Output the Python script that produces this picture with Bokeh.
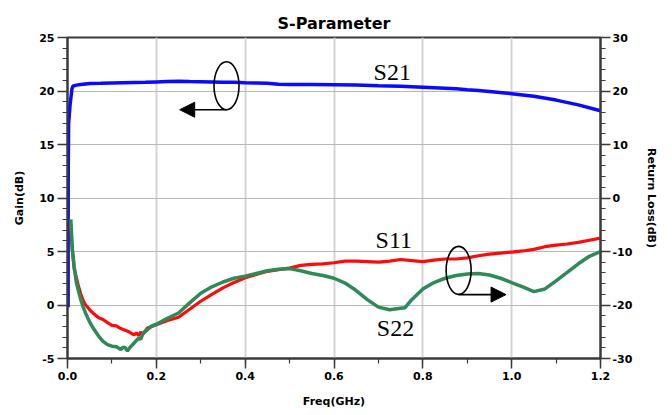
from bokeh.plotting import figure
from bokeh.models import (Range1d, LinearAxis, FixedTicker, Arrow, NormalHead)
from bokeh.core.properties import value
from bokeh.embed import file_html
from bokeh.resources import INLINE

# ---------------- data ----------------
# S21 gain (dB), left axis
s21_freq = [0.0014, 0.0016, 0.0025, 0.006, 0.010, 0.012, 0.02, 0.03, 0.05, 0.075,
            0.10, 0.125, 0.15, 0.175, 0.20, 0.225, 0.25, 0.275, 0.30, 0.325,
            0.35, 0.375, 0.40, 0.425, 0.45, 0.475, 0.50, 0.55, 0.60, 0.65,
            0.70, 0.75, 0.80, 0.85, 0.875, 0.90, 0.925, 0.95, 1.00, 1.05,
            1.10, 1.15, 1.20]
s21_gain = [-0.2, 12.0, 17.0, 18.8, 20.2, 20.45, 20.55, 20.6, 20.7, 20.72,
            20.75, 20.78, 20.8, 20.82, 20.85, 20.88, 20.9, 20.88, 20.87, 20.85,
            20.82, 20.82, 20.78, 20.75, 20.72, 20.62, 20.6, 20.6, 20.58, 20.55,
            20.48, 20.45, 20.35, 20.25, 20.2, 20.12, 20.05, 19.95, 19.75, 19.5,
            19.15, 18.7, 18.15]

# S11 return loss (dB), right axis
s11_freq = [0.007, 0.010, 0.015, 0.02, 0.025, 0.03, 0.035, 0.04, 0.05, 0.06,
            0.07, 0.08, 0.09, 0.10, 0.11, 0.12, 0.13, 0.14, 0.15, 0.155,
            0.16, 0.165, 0.17, 0.18, 0.19, 0.20, 0.225, 0.25, 0.275, 0.30,
            0.325, 0.35, 0.375, 0.40, 0.425, 0.45, 0.475, 0.50, 0.525, 0.55,
            0.575, 0.60, 0.625, 0.65, 0.675, 0.70, 0.725, 0.75, 0.775, 0.80,
            0.825, 0.85, 0.875, 0.90, 0.925, 0.95, 0.975, 1.00, 1.025, 1.05,
            1.075, 1.10, 1.125, 1.15, 1.175, 1.20]
s11_rl = [-5.0, -9.0, -13.2, -14.9, -16.6, -18.0, -19.1, -19.9, -20.9, -21.7,
          -22.4, -22.7, -23.3, -23.8, -23.9, -24.4, -24.7, -25.1, -25.6, -25.2,
          -25.7, -25.1, -25.4, -24.3, -24.0, -23.7, -22.9, -22.3, -20.8, -19.3,
          -18.0, -16.8, -15.8, -14.9, -14.3, -13.7, -13.4, -13.1, -12.6, -12.4,
          -12.3, -12.1, -11.8, -11.8, -11.9, -12.0, -11.8, -11.5, -11.7, -11.9,
          -11.6, -11.4, -11.4, -11.2, -10.8, -10.5, -10.3, -10.1, -9.9, -9.6,
          -9.1, -8.8, -8.6, -8.3, -7.9, -7.5]

# S22 return loss (dB), right axis
s22_freq = [0.0075, 0.011, 0.015, 0.02, 0.025, 0.03, 0.035, 0.04, 0.05, 0.06,
            0.07, 0.08, 0.09, 0.10, 0.11, 0.12, 0.125, 0.13, 0.135, 0.14,
            0.15, 0.16, 0.165, 0.17, 0.18, 0.19, 0.20, 0.225, 0.25, 0.275,
            0.30, 0.325, 0.35, 0.375, 0.40, 0.425, 0.45, 0.475, 0.50, 0.525,
            0.55, 0.575, 0.60, 0.625, 0.65, 0.675, 0.70, 0.725, 0.75, 0.76,
            0.775, 0.80, 0.825, 0.85, 0.875, 0.90, 0.925, 0.95, 0.975, 1.00,
            1.025, 1.05, 1.075, 1.10, 1.125, 1.15, 1.175, 1.20]
s22_rl = [-4.0, -9.6, -12.8, -15.8, -17.5, -19.0, -20.3, -21.4, -23.2, -24.6,
          -25.8, -26.8, -27.4, -27.7, -27.8, -28.3, -27.9, -28.0, -28.6, -28.0,
          -27.1, -26.2, -26.4, -25.3, -24.6, -23.9, -23.6, -22.5, -21.5, -19.6,
          -17.8, -16.6, -15.7, -15.0, -14.6, -14.1, -13.6, -13.3, -13.2, -13.6,
          -14.1, -14.5, -15.0, -15.9, -17.3, -19.0, -20.4, -20.9, -20.6, -20.5,
          -19.0, -17.0, -15.8, -15.0, -14.5, -14.2, -14.1, -14.4, -15.0, -15.8,
          -16.6, -17.5, -17.0, -15.5, -13.9, -12.3, -10.9, -10.0]

x_ticks = [0.0, 0.2, 0.4, 0.6, 0.8, 1.0, 1.2]
x_tick_labels = ["0.0", "0.2", "0.4", "0.6", "0.8", "1.0", "1.2"]
gain_ticks = [-5, 0, 5, 10, 15, 20, 25]
gain_tick_labels = ["-5", "0", "5", "10", "15", "20", "25"]
rl_ticks = [-30, -20, -10, 0, 10, 20, 30]
rl_tick_labels = ["-30", "-20", "-10", "0", "10", "20", "30"]

FONT = "DejaVu Sans"
AX_COLOR = "#3a3a3a"

p = figure(frame_width=533, frame_height=321,
           x_range=Range1d(0, 1.2), y_range=Range1d(-5, 25),
           output_backend="svg", toolbar_location=None,
           title="S-Parameter",
           min_border_left=67, min_border_right=64,
           min_border_top=37, min_border_bottom=48)
p.extra_y_ranges = {"rl": Range1d(-30, 30)}

p.title.align = "center"
p.title.text_font = FONT
p.title.text_font_size = "16px"
p.title.text_font_style = "bold"
p.title.text_color = "black"
p.title.text_line_height = 0.6

p.outline_line_color = AX_COLOR
p.outline_line_width = 2
p.background_fill_color = "white"
p.border_fill_color = "white"

def style_axis(ax, ticks, minor, labels, overrides):
    ax.ticker = FixedTicker(ticks=ticks, minor_ticks=minor)
    ax.major_label_overrides = dict(zip(ticks, labels))
    ax.axis_line_color = AX_COLOR
    ax.axis_line_width = 2
    ax.major_tick_line_color = AX_COLOR
    ax.minor_tick_line_color = AX_COLOR
    ax.major_tick_line_width = 1.5
    ax.minor_tick_line_width = 1.2
    ax.major_tick_out = 10
    ax.major_tick_in = 0
    ax.minor_tick_out = 5
    ax.minor_tick_in = 0
    ax.major_label_text_font = FONT
    ax.major_label_text_font_style = "bold"
    ax.major_label_text_font_size = "11px"
    ax.major_label_text_color = "black"
    ax.axis_label_text_font = FONT
    ax.axis_label_text_font_style = "bold"
    ax.axis_label_text_font_size = "11px"
    ax.axis_label_text_color = "black"
    for k, v in overrides.items():
        setattr(ax, k, v)

xax = p.xaxis[0]
style_axis(xax, x_ticks, [round(0.1 * i, 1) for i in range(13)], x_tick_labels,
           dict(axis_label="Freq(GHz)", major_label_standoff=3, axis_label_standoff=12))

yax = p.yaxis[0]
style_axis(yax, gain_ticks, list(range(-5, 26)), gain_tick_labels,
           dict(axis_label="Gain(dB)", major_label_standoff=3, axis_label_standoff=10))

rax = LinearAxis(y_range_name="rl")
style_axis(rax, rl_ticks, list(range(-30, 31, 2)), rl_tick_labels,
           dict(axis_label="Return Loss(dB)", major_label_standoff=2, axis_label_standoff=10))
p.add_layout(rax, "right")

p.xgrid.grid_line_color = "#d4d4d4"
p.xgrid.grid_line_width = 2
p.ygrid.grid_line_color = "#b8b8b8"
p.ygrid.grid_line_width = 1

# curves
p.line(s21_freq, s21_gain, line_color="#0a0aff", line_width=3.5)
p.line(s11_freq, s11_rl, y_range_name="rl", line_color="#ff0a0a", line_width=3.2)
p.line(s22_freq, s22_rl, y_range_name="rl", line_color="#2e8b57", line_width=3.5)

# annotations (in gain coordinates)
serif = value("Liberation Serif")
p.text(x=[0.7311], y=[21.75], text=["S21"], text_font=serif, text_font_size="24px",
       text_align="center", text_baseline="alphabetic", text_color="black")
p.text(x=[0.7346], y=[6.12], text=["S11"], text_font=serif, text_font_size="24px",
       text_align="center", text_baseline="alphabetic", text_color="black")
p.text(x=[0.7384], y=[-2.14], text=["S22"], text_font=serif, text_font_size="24px",
       text_align="center", text_baseline="alphabetic", text_color="black")

p.ellipse(x=[0.358, 0.8806], y=[20.49, 3.24], width=25, height=48,
          width_units="screen", height_units="screen",
          fill_color=None, line_color="black", line_width=1.6)

p.add_layout(Arrow(end=NormalHead(size=15, fill_color="black", line_color="black"),
                   x_start=0.358, y_start=18.25, x_end=0.2526, y_end=18.25,
                   line_color="black", line_width=1.6))
p.add_layout(Arrow(end=NormalHead(size=15, fill_color="black", line_color="black"),
                   x_start=0.8806, y_start=0.97, x_end=0.9874, y_end=0.97,
                   line_color="black", line_width=1.6))

open("out.html", "w").write(file_html(p, INLINE))
